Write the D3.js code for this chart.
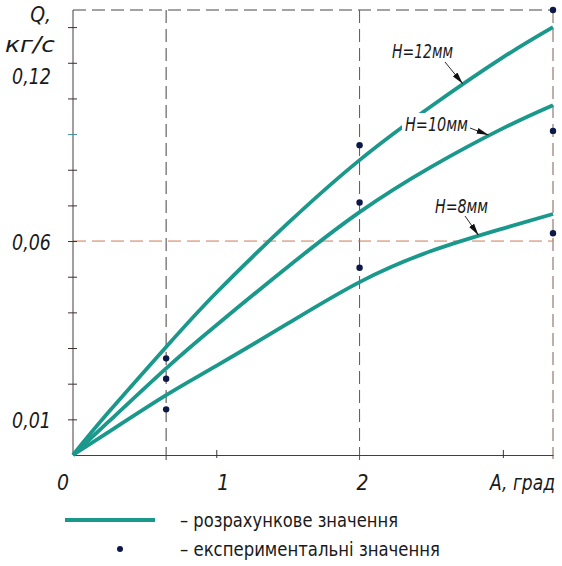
<!DOCTYPE html>
<html>
<head>
<meta charset="utf-8">
<script src="https://cdn.jsdelivr.net/npm/d3@7"></script>
<style>
  body { margin: 0; background: #fff; }
  text { font-family: "DejaVu Sans Condensed", "DejaVu Sans", sans-serif; fill: #1a1a1a; }
  .lbl { font-style: italic; font-size: 21px; }
  .ann { font-style: italic; font-size: 19px; }
  .leg { font-size: 20px; }
</style>
</head>
<body>
<div id="chart"></div>
<script>
// Calculated curves: flow rate Q (kg/s) against angle A (deg), for three heights H.
var xCalc = [0, 0.25, 0.65, 1, 1.5, 2, 2.5, 3, 3.35];
var q12 = [0, 0.0121, 0.0303, 0.0455, 0.0650, 0.0827, 0.0978, 0.1115, 0.1200];
var q10 = [0, 0.0094, 0.0243, 0.0364, 0.0528, 0.0681, 0.0808, 0.0916, 0.0981];
var q8  = [0, 0.0065, 0.0168, 0.0250, 0.0369, 0.0485, 0.0572, 0.0635, 0.0676];

// Experimental points.
var xExp = [0.65, 2, 3.35];
var e12 = [0.0271, 0.0869, 0.1248];
var e10 = [0.0214, 0.0708, 0.0909];
var e8  = [0.0128, 0.0525, 0.0622];

var seriesNames = ["H=12мм", "H=10мм", "H=8мм"];
var yTicks = [0.01, 0.02, 0.03, 0.04, 0.05, 0.06, 0.07, 0.08, 0.09, 0.10, 0.11, 0.12];
var xTicks = [1, 3];
var gridX = [0.65, 2];
var gridY = [0.06];
var legendLabels = ["– розрахункове значення", "– експериментальні значення"];

var W = 562, H = 566;
var teal = "#1b988c";
var navy = "#0c1848";

var x = d3.scaleLinear().domain([0, 3.35]).range([73, 553]);
var y = d3.scaleLinear().domain([0, 0.1248]).range([455, 10]);

// squeeze text to the drafting-font width of the original
function fit(sel, w) {
  sel.attr("textLength", w).attr("lengthAdjust", "spacingAndGlyphs");
}

var svg = d3.select("#chart").append("svg")
  .attr("width", W)
  .attr("height", H);

var defs = svg.append("defs");
defs.append("marker")
  .attr("id", "arrow")
  .attr("viewBox", "0 0 12 6")
  .attr("refX", 12).attr("refY", 3)
  .attr("markerWidth", 12).attr("markerHeight", 6)
  .attr("markerUnits", "userSpaceOnUse")
  .attr("orient", "auto")
  .append("path")
  .attr("d", "M0,0 L12,3 L0,6 Z")
  .attr("fill", "#111");

// Dashed frame and grid lines.
svg.append("line")
  .attr("x1", x(0)).attr("x2", x(3.35))
  .attr("y1", y(0.1248)).attr("y2", y(0.1248))
  .attr("stroke", "#4a4444").attr("stroke-dasharray", "13,6");
svg.append("line")
  .attr("x1", x(3.35)).attr("x2", x(3.35))
  .attr("y1", y(0.1248)).attr("y2", y(0) + 4)
  .attr("stroke", "#7c5e56").attr("stroke-dasharray", "13,6");
svg.selectAll(".gx").data(gridX).enter().append("line")
  .attr("class", "gx")
  .attr("x1", function(d) { return x(d); }).attr("x2", function(d) { return x(d); })
  .attr("y1", y(0.1248)).attr("y2", y(0) + 7)
  .attr("stroke", function(d, i) { return i === 0 ? "#464040" : "#6a524a"; })
  .attr("stroke-dasharray", "13,6");
svg.selectAll(".gy").data(gridY).enter().append("line")
  .attr("class", "gy")
  .attr("x1", x(0)).attr("x2", x(3.35))
  .attr("y1", function(d) { return y(d); }).attr("y2", function(d) { return y(d); })
  .attr("stroke", "#cc7a58").attr("stroke-dasharray", "13,6");

// Axes.
var yAxis = svg.append("g")
  .attr("transform", "translate(" + x(0) + ",0)")
  .call(d3.axisLeft(y).tickValues(yTicks).tickSize(5).tickSizeOuter(0).tickFormat(""));
yAxis.selectAll(".tick line").attr("x2", -5).attr("x1", 4)
  .attr("stroke", function(d) { return d === 0.09 ? "#3f8f96" : "#3a3030"; });
yAxis.select(".domain").attr("stroke", "#4a3c3c")
  .attr("d", "M0," + y(0) + "V" + y(0.1248));

var xAxis = svg.append("g")
  .attr("transform", "translate(0," + y(0) + ")")
  .call(d3.axisBottom(x).tickValues(xTicks).tickSize(3).tickSizeOuter(0).tickFormat(""));
xAxis.selectAll(".tick line").attr("y1", -5).attr("stroke", "#3a3030");
xAxis.select(".domain").attr("stroke", "#4a3c3c");

// Axis labels.
svg.append("text").attr("class", "lbl").attr("text-anchor", "end")
  .attr("x", 51).attr("y", 22).text("Q,");
svg.append("text").attr("class", "lbl")
  .attr("x", 5).attr("y", 52).text("кг/с").call(fit, 50);
var yLabs = [0.12, 0.06, 0.01];
svg.selectAll(".ylab").data(yLabs).enter().append("text")
  .attr("class", "lbl ylab")
  .attr("x", 12)
  .attr("y", function(d) { return d === 0.12 ? y(d) + 57 : y(d) + 9; })
  .text(function(d) { return d3.format(".2f")(d).replace(".", ","); })
  .call(fit, 39);

var xLabs = [0, 1, 2];
svg.selectAll(".xlab").data(xLabs).enter().append("text")
  .attr("class", "lbl xlab").attr("text-anchor", "middle")
  .attr("x", function(d) { return x(d) + [-10, 7, 3][d]; })
  .attr("y", 490)
  .text(function(d) { return d; });
svg.append("text").attr("class", "lbl")
  .attr("x", 490).attr("y", 490).text("A, град").call(fit, 65);

// Curves.
var calc = [q12, q10, q8];
var line = d3.line()
  .x(function(d, i) { return x(xCalc[i]); })
  .y(function(d) { return y(d); })
  .curve(d3.curveNatural);
svg.selectAll(".curve").data(calc).enter().append("path")
  .attr("class", "curve")
  .attr("d", line)
  .attr("fill", "none")
  .attr("stroke", teal)
  .attr("stroke-width", 3.8);

// Experimental dots.
var exp = [e12, e10, e8];
exp.forEach(function(s) {
  svg.selectAll(null).data(s).enter().append("circle")
    .attr("cx", function(d, i) { return x(xExp[i]); })
    .attr("cy", function(d) { return y(d); })
    .attr("r", 3.2)
    .attr("fill", navy);
});

// Curve annotations with leader arrows.
function interp(vals, v) {
  for (var i = 1; i < xCalc.length; i++) {
    if (v <= xCalc[i]) {
      var t = (v - xCalc[i - 1]) / (xCalc[i] - xCalc[i - 1]);
      return vals[i - 1] + t * (vals[i] - vals[i - 1]);
    }
  }
  return vals[vals.length - 1];
}
var ann = [
  { tx: 392, ty: 58, w: 61, from: [445, 62], at: 2.72, vals: q12, gap: false },
  { tx: 405, ty: 131, w: 63, from: [470, 128], at: 2.90, vals: q10, gap: true },
  { tx: 435, ty: 213, w: 53, from: [465, 216], at: 2.83, vals: q8, gap: false }
];
ann.forEach(function(a, i) {
  var t = svg.append("text").attr("class", "ann")
    .attr("x", a.tx).attr("y", a.ty).text(seriesNames[i]).call(fit, a.w);
  if (a.gap) {
    var b = t.node().getBBox();
    svg.insert("rect", "text.ann")
      .attr("x", b.x - 3).attr("y", b.y).attr("width", b.width + 4).attr("height", b.height)
      .attr("fill", "#fff");
  }
  svg.append("line")
    .attr("x1", a.from[0]).attr("y1", a.from[1])
    .attr("x2", x(a.at)).attr("y2", y(interp(a.vals, a.at)) - 1)
    .attr("stroke", "#111").attr("stroke-width", 0.9)
    .attr("marker-end", "url(#arrow)");
});

// Legend.
svg.append("line")
  .attr("x1", 65).attr("x2", 155).attr("y1", 520).attr("y2", 520)
  .attr("stroke", teal).attr("stroke-width", 3.8);
svg.append("circle").attr("cx", 120).attr("cy", 549).attr("r", 3).attr("fill", navy);
var legW = [218, 260];
svg.selectAll(".leg").data(legendLabels).enter().append("text")
  .attr("class", "leg")
  .attr("x", 180)
  .attr("y", function(d, i) { return 527 + i * 29; })
  .text(function(d) { return d; })
  .attr("textLength", function(d, i) { return legW[i]; })
  .attr("lengthAdjust", "spacingAndGlyphs");
</script>
</body>
</html>
